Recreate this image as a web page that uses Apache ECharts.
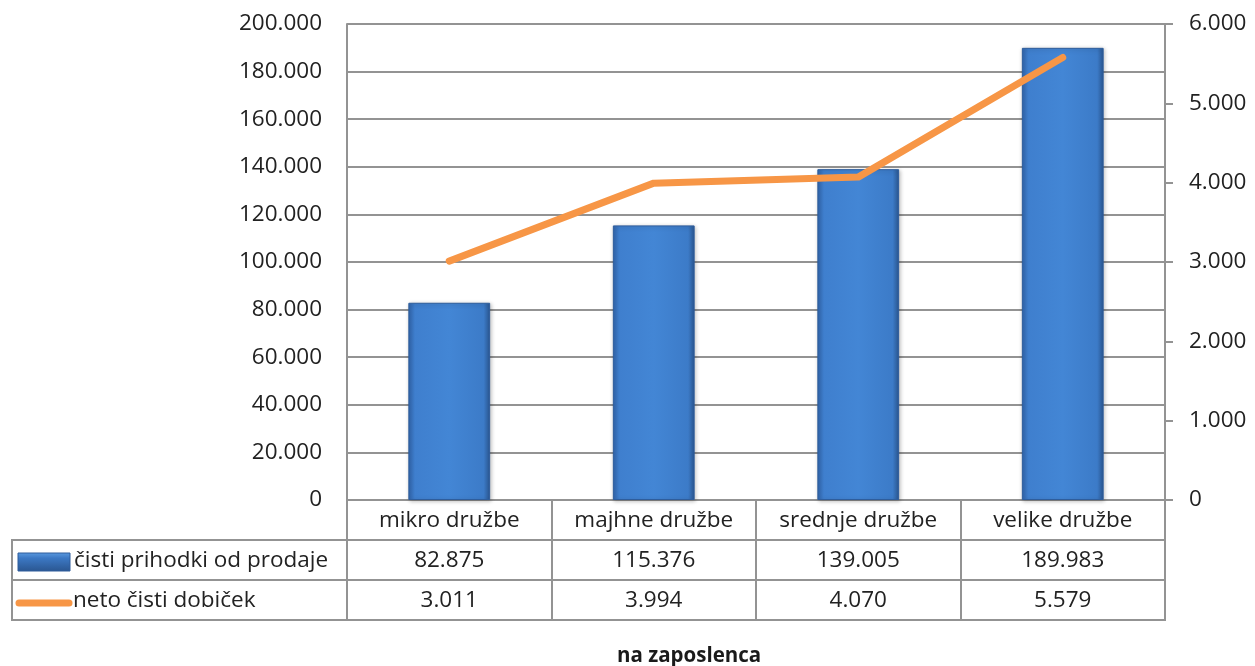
<!DOCTYPE html>
<html>
<head>
<meta charset="utf-8">
<script src="https://cdn.jsdelivr.net/npm/echarts@6/dist/echarts.min.js"></script>
<style>html,body{margin:0;padding:0;background:#fff}#c{width:1255px;height:666px}</style>
</head>
<body>
<div id="c"></div>
<script>
const categories = ['mikro družbe', 'majhne družbe', 'srednje družbe', 'velike družbe'];
const revenue = [82875, 115376, 139005, 189983];
const profit = [3011, 3994, 4070, 5579];
const seriesNames = ['čisti prihodki od prodaje', 'neto čisti dobiček'];
const titleText = 'na zaposlenca';

const FONT = 'Open Sans';
const FS = 22.5;
const GRAY = '#939393';
function fmt(v) {
  return String(Math.round(v)).replace(/\B(?=(\d{3})+(?!\d))/g, '.');
}

const chart = echarts.init(document.getElementById('c'));
const option = {
  animation: false,
  textStyle: { fontFamily: FONT },
  title: {
    text: titleText, left: 612, top: 641,
    textStyle: { fontFamily: FONT, fontWeight: 'bold', fontSize: 20.5, color: '#1a1a1a' }
  },
  grid: { left: 347, right: 90, top: 24, bottom: 166 },
  xAxis: {
    type: 'category', data: categories, boundaryGap: true,
    axisLine: { lineStyle: { color: GRAY, width: 2 } },
    axisTick: { show: true, interval: 0, length: 120, lineStyle: { color: GRAY, width: 2 } },
    axisLabel: {
      interval: 0, margin: 1, color: '#222', fontSize: FS, lineHeight: 40, fontFamily: FONT,
      formatter: function (v, i) { return v + '\n' + fmt(revenue[i]) + '\n' + fmt(profit[i]); }
    }
  },
  yAxis: [
    {
      type: 'value', min: 0, max: 200000, interval: 20000,
      axisLine: { show: true, lineStyle: { color: GRAY, width: 2 } },
      axisTick: { show: false },
      splitLine: { lineStyle: { color: GRAY, width: 2 } },
      axisLabel: { margin: 25, color: '#222', fontSize: FS, fontFamily: FONT, formatter: fmt }
    },
    {
      type: 'value', min: 0, max: 6000, interval: 1000, position: 'right',
      axisLine: { show: true, lineStyle: { color: GRAY, width: 2 } },
      axisTick: { show: true, length: 8, lineStyle: { color: GRAY, width: 2 } },
      splitLine: { show: false },
      axisLabel: { margin: 24, color: '#222', fontSize: FS, fontFamily: FONT, formatter: fmt }
    }
  ],
  series: [
    {
      name: seriesNames[0], type: 'bar', data: revenue, barWidth: '40%', yAxisIndex: 0,
      itemStyle: {
        color: new echarts.graphic.LinearGradient(0, 0, 1, 0, [
          { offset: 0, color: '#3165AC' },
          { offset: 0.08, color: '#3F7FCE' },
          { offset: 0.5, color: '#4386D5' },
          { offset: 0.92, color: '#3C7BC8' },
          { offset: 1, color: '#2A5690' }
        ]),
        borderColor: '#2E5D9C', borderWidth: 1,
        shadowColor: 'rgba(0,0,0,0.25)', shadowBlur: 4, shadowOffsetX: 1, shadowOffsetY: 1
      }
    },
    {
      name: seriesNames[1], type: 'line', data: profit, yAxisIndex: 1,
      symbol: 'none', z: 5,
      lineStyle: { color: '#F79646', width: 7, cap: 'round', join: 'round' }
    }
  ],
  graphic: [
    { type: 'line', shape: { x1: 12, y1: 540, x2: 1166, y2: 540 }, style: { stroke: GRAY, lineWidth: 2 } },
    { type: 'line', shape: { x1: 12, y1: 580, x2: 1166, y2: 580 }, style: { stroke: GRAY, lineWidth: 2 } },
    { type: 'line', shape: { x1: 12, y1: 620, x2: 1166, y2: 620 }, style: { stroke: GRAY, lineWidth: 2 } },
    { type: 'line', shape: { x1: 12, y1: 539, x2: 12, y2: 621 }, style: { stroke: GRAY, lineWidth: 2 } },
    {
      type: 'rect', shape: { x: 18, y: 553, width: 52, height: 18 },
      style: {
        fill: new echarts.graphic.LinearGradient(0, 0, 0, 1, [
          { offset: 0, color: '#5B9BE0' },
          { offset: 0.3, color: '#3C78C4' },
          { offset: 1, color: '#2A5690' }
        ]),
        stroke: '#2E5D9C', lineWidth: 1
      }
    },
    { type: 'text', style: { text: seriesNames[0], x: 74, y: 561, fill: '#222', font: FS + 'px "Open Sans"', textVerticalAlign: 'middle' } },
    { type: 'line', shape: { x1: 19, y1: 603, x2: 69, y2: 603 }, style: { stroke: '#F79646', lineWidth: 7, lineCap: 'round' } },
    { type: 'text', style: { text: seriesNames[1], x: 73, y: 601, fill: '#222', font: FS + 'px "Open Sans"', textVerticalAlign: 'middle' } }
  ]
};
chart.setOption(option);
</script>
</body>
</html>
